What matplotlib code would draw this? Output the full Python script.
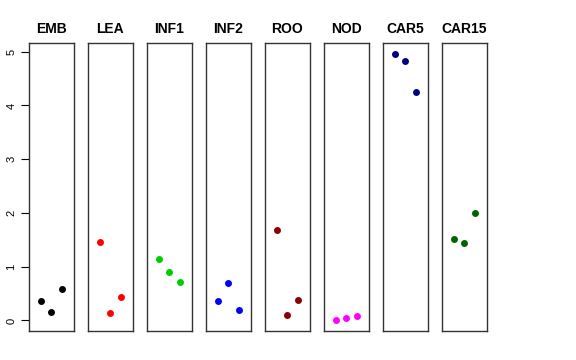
import matplotlib
matplotlib.use('Agg')
import matplotlib.pyplot as plt

plt.rcParams['font.family'] = ['Liberation Sans', 'DejaVu Sans']

tissues = ['EMB', 'LEA', 'INF1', 'INF2', 'ROO', 'NOD', 'CAR5', 'CAR15']
colors = ['black', 'red', '#00CD00', 'blue', '#8B0000', 'magenta', '#000080', '#006400']
reps = [1, 2, 3]
emb = [0.357, 0.158, 0.580]
lea = [1.460, 0.145, 0.443]
inf1 = [1.144, 0.902, 0.722]
inf2 = [0.363, 0.698, 0.201]
roo = [1.690, 0.102, 0.376]
nod = [0.003, 0.047, 0.078]
car5 = [4.964, 4.820, 4.257]
car15 = [1.516, 1.448, 2.000]
values = [emb, lea, inf1, inf2, roo, nod, car5, car15]

W, H = 576, 360
fig = plt.figure(figsize=(W / 100, H / 100), dpi=100)

ymin, ymax = 0.003, 4.964
pad = 0.04 * (ymax - ymin)

for i, (name, col, vals) in enumerate(zip(tissues, colors, values)):
    left = 29 + 59 * i
    ax = fig.add_axes([left / W, 29 / H, 44.5 / W, 288 / H])
    ax.plot(reps, vals, 'o', color=col, markersize=5, markeredgewidth=0)
    ax.set_xlim(-0.16, 4.16)
    ax.set_ylim(ymin - pad, ymax + pad)
    ax.set_xticks([])
    for s in ax.spines.values():
        s.set_color('#333333')
        s.set_linewidth(1)
    ax.set_title(name, fontsize=10, fontweight='bold', pad=7)
    if i == 0:
        ax.set_yticks([0, 1, 2, 3, 4, 5])
        ax.tick_params(axis='y', length=6, width=0.8, labelsize=8, pad=3)
        for lab in ax.get_yticklabels():
            lab.set_rotation(90)
            lab.set_va('center')
    else:
        ax.set_yticks([])

fig.savefig('out.png', dpi=100)
